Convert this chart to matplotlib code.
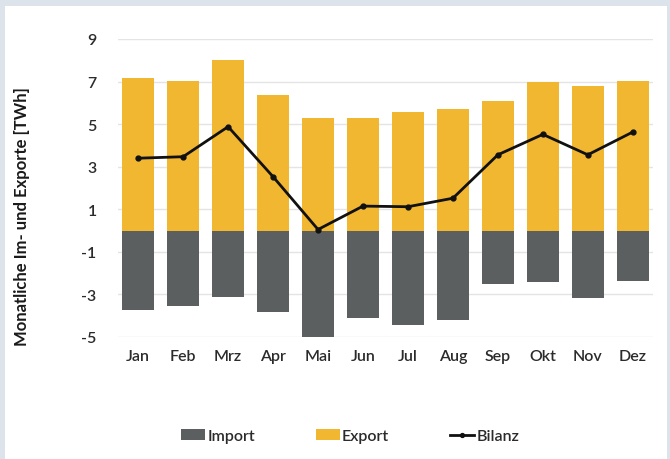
import matplotlib.pyplot as plt
import numpy as np

# monthly exchange in TWh
months = ["Jan", "Feb", "Mrz", "Apr", "Mai", "Jun", "Jul", "Aug", "Sep", "Okt", "Nov", "Dez"]
export = [7.16, 7.01, 8.02, 6.37, 5.27, 5.30, 5.57, 5.71, 6.07, 6.96, 6.79, 7.01]
imports = [-3.74, -3.54, -3.11, -3.82, -5.02, -4.13, -4.44, -4.18, -2.50, -2.43, -3.19, -2.37]
bilanz = [3.40, 3.47, 4.88, 2.53, 0.05, 1.15, 1.12, 1.52, 3.56, 4.52, 3.56, 4.63]
yticks = [-5, -3, -1, 1, 3, 5, 7, 9]

plt.rcParams['font.family'] = ['Lato', 'DejaVu Sans']

fig = plt.figure(figsize=(6.7, 4.6), dpi=100)
fig.patch.set_facecolor('#dce3ea')
# white card on the blue-grey frame
card = fig.add_axes([5 / 670, 0, 662 / 670, 453 / 460], zorder=-5)
card.set_facecolor('white')
card.set_xticks([])
card.set_yticks([])
for s in card.spines.values():
    s.set_visible(False)

ax = fig.add_axes([117.5 / 670, 1 - 338 / 460, (653 - 117.5) / 670, (338 - 40) / 460])
ax.set_facecolor('none')

x = np.arange(len(months))
b_imp = ax.bar(x, imports, width=0.71, color='#5b5f5f', label='Import', zorder=2)
b_exp = ax.bar(x, export, width=0.71, color='#f2b731', label='Export', zorder=2)
l_bil, = ax.plot(x, bilanz, color='#111111', lw=2, marker='o', ms=3.5, label='Bilanz', zorder=3)

ax.set_xlim(-0.46, 11.45)
ax.set_ylim(-5, 9)
ax.set_yticks(yticks)
ax.set_yticklabels([str(v) for v in yticks])
ax.set_xticks(x)
ax.set_xticklabels(months)
ax.grid(axis='y', color='#e4e4e4', lw=1, zorder=0)
ax.set_axisbelow(True)
for s in ax.spines.values():
    s.set_visible(False)
ax.tick_params(axis='both', length=0, labelsize=11.5, colors='#2b2b2b')
ax.tick_params(axis='y', pad=15)
ax.tick_params(axis='x', pad=9)
for lbl in ax.get_xticklabels() + ax.get_yticklabels():
    lbl.set_fontweight('semibold')

fig.text(22 / 670, 1 - 217 / 460, 'Monatliche Im- und Exporte [TWh]', rotation=90,
         fontsize=12, fontweight='bold', color='#1a1a1a', ha='center', va='center')

leg = fig.legend([b_imp, b_exp, l_bil], ['Import', 'Export', 'Bilanz'],
                 loc='center', bbox_to_anchor=(350 / 670, 1 - 437 / 460), ncol=3,
                 frameon=False, fontsize=11.5, handlelength=1.5, handleheight=0.7,
                 handletextpad=0.15, columnspacing=3.8, markerscale=0.8)
for t in leg.get_texts():
    t.set_color('#2b2b2b')
    t.set_fontweight('semibold')

fig.savefig('out.png', dpi=100, facecolor=fig.get_facecolor())
